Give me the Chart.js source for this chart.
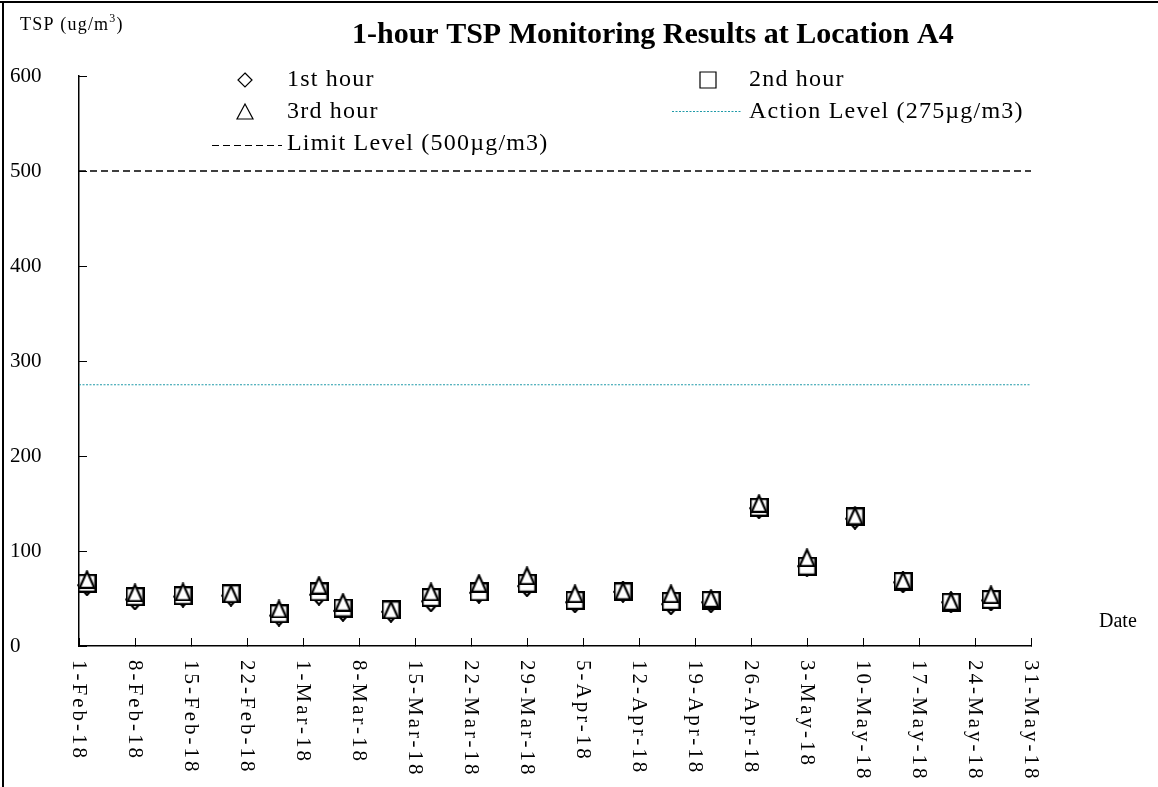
<!DOCTYPE html>
<html>
<head>
<meta charset="utf-8">
<title>1-hour TSP Monitoring Results at Location A4</title>
<script src="https://cdn.jsdelivr.net/npm/chart.js@4.4.0/dist/chart.umd.min.js"></script>
<style>
    html, body { margin: 0; padding: 0; background: #fff; }
    #wrap { position: relative; width: 1158px; height: 787px; }
</style>
</head>
<body>
<div id="wrap"><canvas id="tspChart" width="1158" height="787"></canvas></div>
<script>
// Dati del monitoraggio
const sampleDates = ['2018-02-02', '2018-02-08', '2018-02-14', '2018-02-20', '2018-02-26',
    '2018-03-03', '2018-03-06', '2018-03-12', '2018-03-17', '2018-03-23', '2018-03-29',
    '2018-04-04', '2018-04-10', '2018-04-16', '2018-04-21', '2018-04-27',
    '2018-05-03', '2018-05-09', '2018-05-15', '2018-05-21', '2018-05-26'];
const firstHour  = [64, 49, 52, 53, 32, 54, 37, 36, 47, 56, 63, 46, 57, 44, 46, 145, 84, 134, 67, 46, 48];
const secondHour = [66, 52, 53, 55, 34, 57, 40, 38, 51, 57, 66, 48, 57, 47, 48, 146, 84, 136, 68, 46, 49];
const thirdHour  = [70, 56, 57, 55, 39, 64, 46, 38, 57, 66, 74, 55, 58, 55, 50, 150, 93, 137, 69, 47, 54];
const tickLabels = ['1-Feb-18', '8-Feb-18', '15-Feb-18', '22-Feb-18', '1-Mar-18', '8-Mar-18',
    '15-Mar-18', '22-Mar-18', '29-Mar-18', '5-Apr-18', '12-Apr-18', '19-Apr-18', '26-Apr-18',
    '3-May-18', '10-May-18', '17-May-18', '24-May-18', '31-May-18'];
const axisStart = '2018-02-01';
const axisEnd = '2018-05-31';
const limitLevel = 500;
const actionLevel = 275;

const SERIF = '"Liberation Serif", "Times New Roman", serif';

// giorni dall'inizio dell'asse
const dayOf = (d) => Math.round((Date.parse(d) - Date.parse(axisStart)) / 86400000);
const lastDay = dayOf(axisEnd);

const toPoints = (values) => values.map((v, i) => ({ x: dayOf(sampleDates[i]), y: v }));
const levelLine = (v) => [{ x: 0, y: v }, { x: lastDay, y: v }];

// Marker disegnati su canvas (riempimento bianco, bordo nero)
const makeMarker = (shape, w, h) => {
    const c = document.createElement('canvas');
    c.width = w;
    c.height = h;
    const g = c.getContext('2d');
    g.lineWidth = 2.2;
    g.strokeStyle = '#000';
    g.fillStyle = '#fff';
    g.beginPath();
    if (shape === 'diamond') {
        g.moveTo(w / 2, 1.2); g.lineTo(w - 1.2, h / 2); g.lineTo(w / 2, h - 1.2); g.lineTo(1.2, h / 2);
        g.closePath();
    } else if (shape === 'square') {
        g.rect(1.1, 1.1, w - 2.2, h - 2.2);
    } else {
        g.moveTo(w / 2, 1.5); g.lineTo(w - 1.2, h - 1.2); g.lineTo(1.2, h - 1.2);
        g.closePath();
    }
    g.fill();
    g.stroke();
    return c;
};

const diamondMarker = makeMarker('diamond', 20, 22);
const squareMarker = makeMarker('square', 19, 19);
const triangleMarker = makeMarker('triangle', 17, 19);

// Legenda e testi aggiuntivi
const drawLegendShape = (ctx, shape, x, y) => {
    ctx.save();
    ctx.lineWidth = 1.2;
    ctx.strokeStyle = '#000';
    ctx.beginPath();
    if (shape === 'diamond') {
        ctx.moveTo(x, y - 7); ctx.lineTo(x + 7, y); ctx.lineTo(x, y + 7); ctx.lineTo(x - 7, y);
        ctx.closePath();
    } else if (shape === 'square') {
        ctx.rect(x - 8, y - 8, 16, 16);
    } else {
        ctx.moveTo(x, y - 8); ctx.lineTo(x + 8, y + 7); ctx.lineTo(x - 8, y + 7);
        ctx.closePath();
    }
    ctx.stroke();
    ctx.restore();
};

const decorPlugin = {
    id: 'tspDecor',
    beforeDraw(chart) {
        const ctx = chart.ctx;
        ctx.save();
        ctx.fillStyle = '#fff';
        ctx.fillRect(0, 0, chart.width, chart.height);
        ctx.fillStyle = '#000';
        ctx.fillRect(0, 1, chart.width, 2);
        ctx.fillRect(2, 1, 2, chart.height);
        ctx.restore();
    },
    afterDraw(chart) {
        const ctx = chart.ctx;
        const xs = chart.scales.x;
        ctx.save();
        ctx.fillStyle = '#000';

        // etichette asse x ruotate
        ctx.font = '21px ' + SERIF;
        ctx.letterSpacing = '3px';
        ctx.textAlign = 'left';
        ctx.textBaseline = 'middle';
        xs.ticks.forEach((t, i) => {
            const px = xs.getPixelForValue(t.value);
            ctx.save();
            ctx.translate(px, xs.top + 14);
            ctx.rotate(Math.PI / 2);
            ctx.fillText(tickLabels[i] || '', 0, 0);
            ctx.restore();
        });

        // titolo asse x
        ctx.letterSpacing = '0px';
        ctx.font = '20px ' + SERIF;
        ctx.fillText('Date', 1099, 622);

        // titolo asse y con apice
        ctx.font = '18px ' + SERIF;
        ctx.letterSpacing = '1.2px';
        let tx = 20;
        ctx.fillText('TSP (ug/m', tx, 25);
        tx += ctx.measureText('TSP (ug/m').width;
        ctx.font = '12px ' + SERIF;
        ctx.fillText('3', tx, 19);
        tx += ctx.measureText('3').width;
        ctx.font = '18px ' + SERIF;
        ctx.fillText(')', tx, 25);

        // titolo
        ctx.font = 'bold 30px ' + SERIF;
        ctx.letterSpacing = '0px';
        ctx.fillText('1-hour TSP Monitoring Results at Location A4', 352, 35);

        // legenda
        ctx.font = '24px ' + SERIF;
        ctx.letterSpacing = '1.2px';
        drawLegendShape(ctx, 'diamond', 245, 80);
        ctx.fillText('1st hour', 287, 80);
        drawLegendShape(ctx, 'square', 708, 80);
        ctx.fillText('2nd hour', 749, 80);
        drawLegendShape(ctx, 'triangle', 245, 112);
        ctx.fillText('3rd hour', 287, 112);

        ctx.save();
        ctx.strokeStyle = '#1f9aa8';
        ctx.lineWidth = 1;
        ctx.setLineDash([2, 1.5]);
        ctx.beginPath();
        ctx.moveTo(672, 111.5); ctx.lineTo(742, 111.5);
        ctx.stroke();
        ctx.strokeStyle = '#000';
        ctx.setLineDash([7, 4]);
        ctx.beginPath();
        ctx.moveTo(212, 145.5); ctx.lineTo(282, 145.5);
        ctx.stroke();
        ctx.restore();

        ctx.fillText('Action Level (275\u00b5g/m3)', 749, 112);
        ctx.fillText('Limit Level (500\u00b5g/m3)', 287, 144);
        ctx.restore();
    }
};

const ctx = document.getElementById('tspChart').getContext('2d');
new Chart(ctx, {
    type: 'scatter',
    data: {
        datasets: [
            {
                label: '1st hour',
                data: toPoints(firstHour),
                pointStyle: diamondMarker,
                order: 3,
                clip: false
            },
            {
                label: '2nd hour',
                data: toPoints(secondHour),
                pointStyle: squareMarker,
                order: 2,
                clip: false
            },
            {
                label: '3rd hour',
                data: toPoints(thirdHour),
                pointStyle: triangleMarker,
                order: 1,
                clip: false
            },
            {
                label: 'Action Level (275\u00b5g/m3)',
                data: levelLine(actionLevel),
                showLine: true,
                borderColor: '#1f9aa8',
                borderWidth: 1,
                borderDash: [2, 1.5],
                pointRadius: 0,
                order: 5
            },
            {
                label: 'Limit Level (500\u00b5g/m3)',
                data: levelLine(limitLevel),
                showLine: true,
                borderColor: '#000',
                borderWidth: 1.4,
                borderDash: [7, 4],
                pointRadius: 0,
                order: 4
            }
        ]
    },
    options: {
        responsive: false,
        animation: false,
        devicePixelRatio: 1,
        events: [],
        layout: { padding: { left: 10, top: 76, right: 127, bottom: 0 } },
        plugins: {
            legend: { display: false },
            tooltip: { enabled: false },
            title: { display: false }
        },
        scales: {
            x: {
                type: 'linear',
                min: 0,
                max: lastDay,
                ticks: { stepSize: 7, display: false },
                grid: { drawOnChartArea: false, tickLength: -8, color: '#000', lineWidth: 1 },
                border: { color: '#000', width: 1.5 },
                afterFit: (scale) => { scale.height = 141; }
            },
            y: {
                min: 0,
                max: 600,
                ticks: {
                    stepSize: 100,
                    crossAlign: 'far',
                    color: '#000',
                    padding: 0,
                    font: { family: SERIF, size: 21 }
                },
                grid: { drawOnChartArea: false, tickLength: -8, color: '#000', lineWidth: 1 },
                border: { color: '#000', width: 1.5 },
                afterFit: (scale) => { scale.width = 69; }
            }
        }
    },
    plugins: [decorPlugin]
});
</script>
</body>
</html>
